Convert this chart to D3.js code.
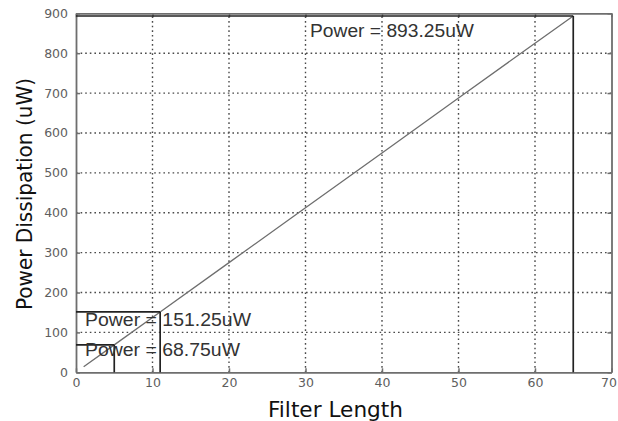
<!DOCTYPE html>
<html><head><meta charset="utf-8">
<script src="https://cdn.jsdelivr.net/npm/d3@7"></script>
<style>html,body{margin:0;padding:0;background:#fff;}svg{display:block;}</style>
</head><body>
<svg id="chart" width="618" height="421"></svg>
<script>
// Data
const filterLength = [1, 5, 11, 20, 30, 40, 50, 60, 65];
const powerUW = [13.75, 68.75, 151.25, 275, 412.5, 550, 687.5, 825, 893.25];
const xTicks = [0, 10, 20, 30, 40, 50, 60, 70];
const yTicks = [0, 100, 200, 300, 400, 500, 600, 700, 800, 900];
const markX = [5, 11, 65];
const markY = [68.75, 151.25, 893.25];
const markLabels = ["Power = 68.75uW", "Power = 151.25uW", "Power = 893.25uW"];

const svg = d3.select("#chart");
const L = 76, R = 611.5, T = 13.3, B = 372.3;
const x = d3.scaleLinear().domain([0, 70]).range([L, R]);
const y = d3.scaleLinear().domain([0, 900]).range([B, T]);

const axisCol = "#6e6e6e";
const gridCol = "#4a4a4a";

// grid
const g = svg.append("g");
g.selectAll("line.gx").data(xTicks.slice(1, -1)).join("line")
  .attr("x1", d => x(d)).attr("x2", d => x(d)).attr("y1", B).attr("y2", T)
  .attr("stroke", gridCol).attr("stroke-width", 1.4).attr("stroke-dasharray", "1.6,3");
g.selectAll("line.gy").data(yTicks.slice(1, -1)).join("line")
  .attr("y1", d => y(d)).attr("y2", d => y(d)).attr("x1", L).attr("x2", R)
  .attr("stroke", gridCol).attr("stroke-width", 1.4).attr("stroke-dasharray", "1.6,3");

// axes
const fontTick = "'DejaVu Sans', Verdana, sans-serif";
const xAxis = svg.append("g").attr("transform", `translate(0,${B})`)
  .call(d3.axisBottom(x).tickValues(xTicks).tickSizeInner(-4).tickSizeOuter(0).tickPadding(6));
const yAxis = svg.append("g").attr("transform", `translate(${L},0)`)
  .call(d3.axisLeft(y).tickValues(yTicks).tickSizeInner(-4).tickSizeOuter(0).tickPadding(8));
const xTop = svg.append("g").attr("transform", `translate(0,${T})`)
  .call(d3.axisTop(x).tickValues(xTicks).tickSizeInner(-4).tickSizeOuter(0).tickFormat(""));
const yRight = svg.append("g").attr("transform", `translate(${R},0)`)
  .call(d3.axisRight(y).tickValues(yTicks).tickSizeInner(-4).tickSizeOuter(0).tickFormat(""));
[xAxis, yAxis, xTop, yRight].forEach(a => {
  a.select(".domain").attr("stroke", axisCol).attr("stroke-width", 1.8);
  a.selectAll(".tick line").attr("stroke", axisCol).attr("stroke-width", 1.5);
  a.selectAll(".tick text").attr("fill", "#5e5e5e").attr("font-family", fontTick)
    .attr("font-size", 12.5);
});
// keep the last x label inside the window
xAxis.selectAll(".tick text").filter(d => d === 70).attr("dx", -3);

// data line
svg.append("path").datum(filterLength.map((d, i) => [d, powerUW[i]]))
  .attr("d", d3.line().x(d => x(d[0])).y(d => y(d[1])))
  .attr("fill", "none").attr("stroke", "#6e6e6e").attr("stroke-width", 1.3);

// marker lines
const mk = svg.append("g");
markX.forEach((mx, i) => {
  const my = markY[i];
  mk.append("line").attr("x1", L).attr("x2", x(mx)).attr("y1", y(my)).attr("y2", y(my))
    .attr("stroke", "#222").attr("stroke-width", 1.7);
  mk.append("line").attr("x1", x(mx)).attr("x2", x(mx)).attr("y1", y(my)).attr("y2", B)
    .attr("stroke", "#222").attr("stroke-width", 1.7);
});

// annotation texts
const annPos = [[85, 356, 155], [85, 326, 166], [310, 37, 164]];
markLabels.forEach((t, i) => {
  svg.append("text").attr("x", annPos[i][0]).attr("y", annPos[i][1])
    .attr("textLength", annPos[i][2]).attr("lengthAdjust", "spacingAndGlyphs")
    .attr("font-family", "Arial, 'Liberation Sans', sans-serif").attr("font-size", 17.5)
    .attr("fill", "#333").text(t);
});

// axis titles
svg.append("text").attr("x", 268).attr("y", 417)
  .attr("textLength", 135).attr("lengthAdjust", "spacingAndGlyphs")
  .attr("font-family", "'DejaVu Sans', Verdana, sans-serif").attr("font-size", 20.5)
  .attr("fill", "#111").text("Filter Length");
svg.append("text").attr("transform", "translate(32,310) rotate(-90)")
  .attr("textLength", 232).attr("lengthAdjust", "spacingAndGlyphs")
  .attr("font-family", "'DejaVu Sans', Verdana, sans-serif").attr("font-size", 20.5)
  .attr("fill", "#111").text("Power Dissipation (uW)");
</script>
</body></html>
